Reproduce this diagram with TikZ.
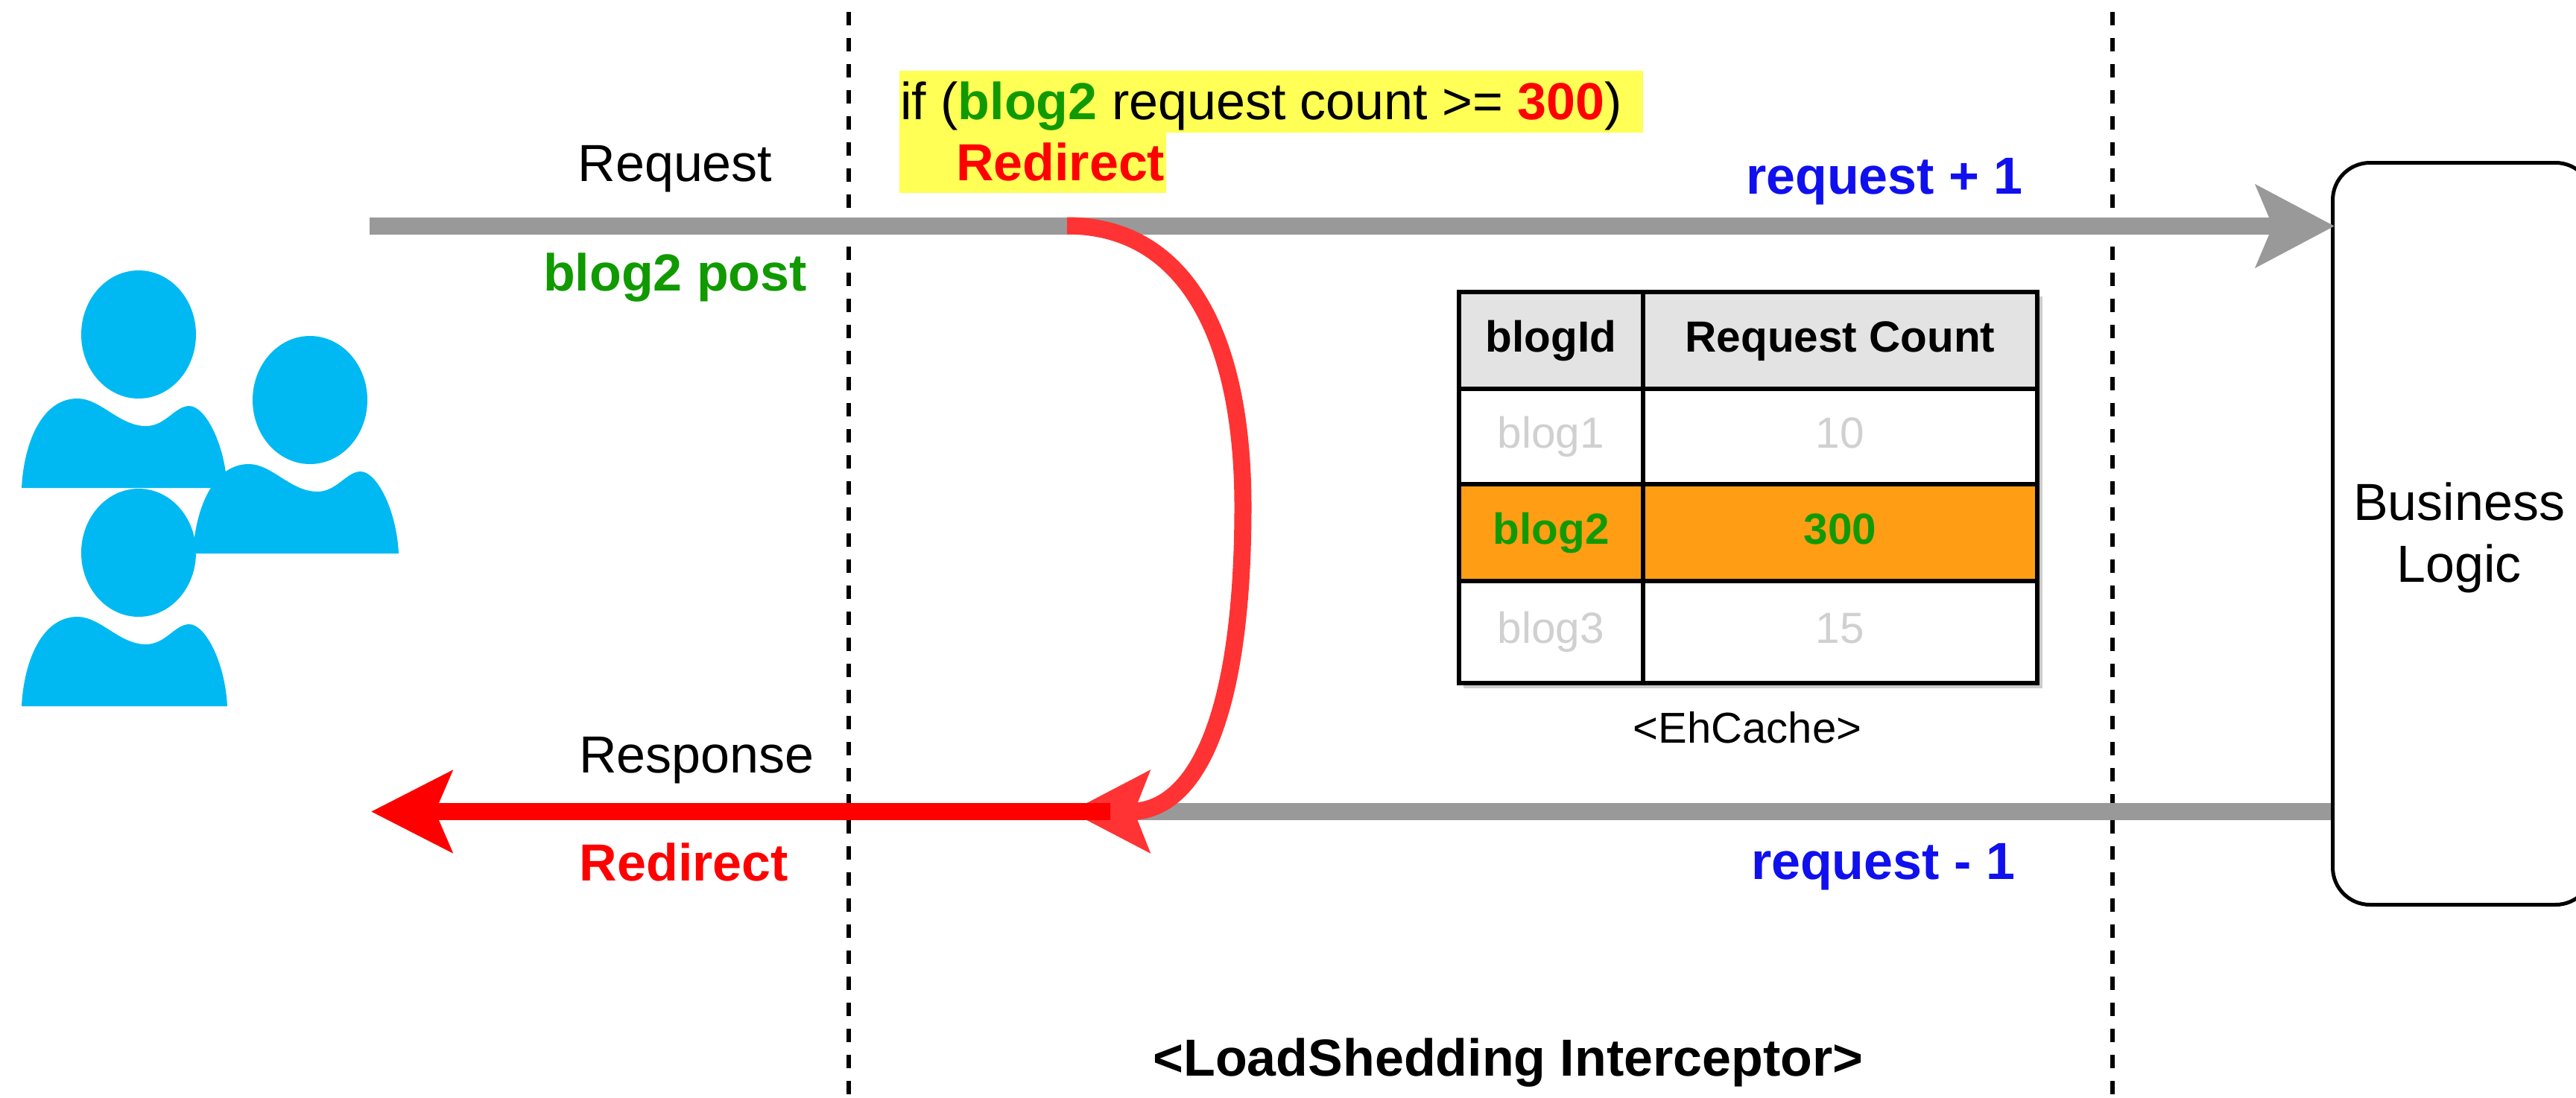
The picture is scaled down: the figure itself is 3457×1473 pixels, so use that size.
\documentclass[tikz,border=0pt]{standalone}
\usepackage{fontspec}
\setmainfont{Liberation Sans}
\usetikzlibrary{arrows.meta}
\definecolor{userblue}{HTML}{00B9F2}
\definecolor{flowgray}{HTML}{999999}
\definecolor{curvered}{HTML}{FF3333}
\definecolor{txtgreen}{HTML}{109A00}
\definecolor{txtblue}{HTML}{1010EE}
\definecolor{hlyellow}{HTML}{FFFF55}
\definecolor{hdrgray}{HTML}{E3E3E3}
\definecolor{rowamber}{HTML}{FF9E14}
\definecolor{faint}{HTML}{D0D0D0}
\newcommand{\fs}[1]{\fontsize{#1}{#1}\selectfont}
\tikzset{
  x=1pt,y=-1pt,
  lbl/.style={anchor=base,inner sep=0pt,font=\fs{70}},
  lblb/.style={anchor=base,inner sep=0pt,font=\fs{70}\bfseries},
  flow/.style={line width=23pt,draw=flowgray},
  boundary/.style={line width=6.5pt,black,dash pattern=on 18pt off 17pt,dash phase=19pt},
  cell/.style={draw=black,line width=6pt,inner sep=0pt,font=\fs{58.5},text height=42pt,text depth=12pt},
  person/.pic={
    \fill[userblue] (186,449) ellipse [x radius=77,y radius=86];
    \fill[userblue] (29,655) .. controls (32,595) and (56,535) .. (104,535)
      .. controls (135,535) and (160,572) .. (196,572)
      .. controls (222,572) and (235,545) .. (254,545)
      .. controls (275,545) and (302,595) .. (305,655) -- cycle;
  }
}
\begin{document}
\begin{tikzpicture}
\useasboundingbox (0,0) rectangle (3457,1473);
% users
\pic at (0,0) {person};
\pic at (230,88) {person};
\pic at (0,293) {person};
% boundaries
\coordinate (b1t) at (1139,0); \coordinate (b1b) at (1139,1473);
\coordinate (b2t) at (2835,0); \coordinate (b2b) at (2835,1473);
\draw[boundary] (b1t) -- (b1b);
\draw[boundary] (b2t) -- (b2b);
% highlight
\fill[hlyellow] (1207,95) rectangle (2205,178);
\fill[hlyellow] (1207,178) rectangle (1565,259);
% business logic
\node[draw=black,line width=5pt,rounded corners=50pt,minimum width=349pt,minimum height=996pt,anchor=north west,inner sep=0pt] (biz) at (3128,216) {};
\node[anchor=base,inner sep=0pt,font=\fs{70},align=center] (bizl1) at (3300,698) {Business};
\node[anchor=base,inner sep=0pt,font=\fs{70},align=center] (bizl2) at (3300,781) {Logic};
% flows
\coordinate (reqstart) at (496,303.5);
\coordinate (reqend) at (3133,303.5);
\coordinate (respstart) at (3128,1089.5);
\coordinate (respend) at (1500,1089.5);
\coordinate (curvestart) at (1432,303);
\coordinate (curvemid) at (1668,680);
\coordinate (curveend) at (1436,1089.5);
\coordinate (redstart) at (1490,1089.5);
\coordinate (redend) at (498,1089.5);
\draw[flow,-{Stealth[length=105pt,width=109pt,inset=22pt]}] (reqstart) -- (reqend);
\draw[flow] (respstart) -- (respend);
\draw[line width=23pt,draw=curvered,-{Stealth[length=106pt,width=108pt,inset=20pt]}]
  (curvestart) .. controls (1590,303) and (1668,450) .. (curvemid)
  .. controls (1668,950) and (1610,1089.5) .. (curveend);
\draw[line width=23pt,draw=red,-{Stealth[length=108pt,width=108pt,inset=22pt]}] (redstart) -- (redend);
% table
\fill[black,opacity=.2] (1964,398) rectangle (2741,924);
\node[cell,fill=hdrgray,minimum width=247pt,minimum height=130pt,font=\fs{58.5}\bfseries] (h1) at (2081.5,457) {blogId};
\node[cell,fill=hdrgray,minimum width=529pt,minimum height=130pt,font=\fs{58.5}\bfseries] (h2) at (2469.5,457) {Request Count};
\node[cell,fill=white,minimum width=247pt,minimum height=128pt,text=faint] (a1) at (2081.5,586) {blog1};
\node[cell,fill=white,minimum width=529pt,minimum height=128pt,text=faint] (a2) at (2469.5,586) {10};
\node[cell,fill=rowamber,minimum width=247pt,minimum height=130pt,text=txtgreen,font=\fs{58.5}\bfseries] (b1) at (2081.5,715) {blog2};
\node[cell,fill=rowamber,minimum width=529pt,minimum height=130pt,text=txtgreen,font=\fs{58.5}\bfseries] (b2) at (2469.5,715) {300};
\node[cell,fill=white,minimum width=247pt,minimum height=137pt,text=faint] (c1) at (2081.5,848.5) {blog3};
\node[cell,fill=white,minimum width=529pt,minimum height=137pt,text=faint] (c2) at (2469.5,848.5) {15};
\node[anchor=base,inner sep=0pt,font=\fs{58}] (eh) at (2345,997) {<EhCache>};
% labels
\node[lbl] (req) at (906,243) {Request};
\node[lblb,text=txtgreen] (post) at (906,390) {blog2 post};
\node[lbl] (resp) at (935,1037) {Response};
\node[lblb,text=red] (redir) at (918,1182) {Redirect};
\node[lblb,text=txtblue] (plus) at (2529,260) {request + 1};
\node[lblb,text=txtblue] (minus) at (2527,1180) {request - 1};
\node[anchor=base west,inner sep=0pt,font=\fs{70}] (cond) at (1208,160) {if ({\bfseries\color{txtgreen}blog2} request count >= {\bfseries\color{red}300})};
\node[anchor=base west,inner sep=0pt,font=\fs{70}\bfseries,text=red] (condr) at (1283,242) {Redirect};
\node[lblb] (title) at (2024,1444) {<LoadShedding Interceptor>};
\end{tikzpicture}
\end{document}
